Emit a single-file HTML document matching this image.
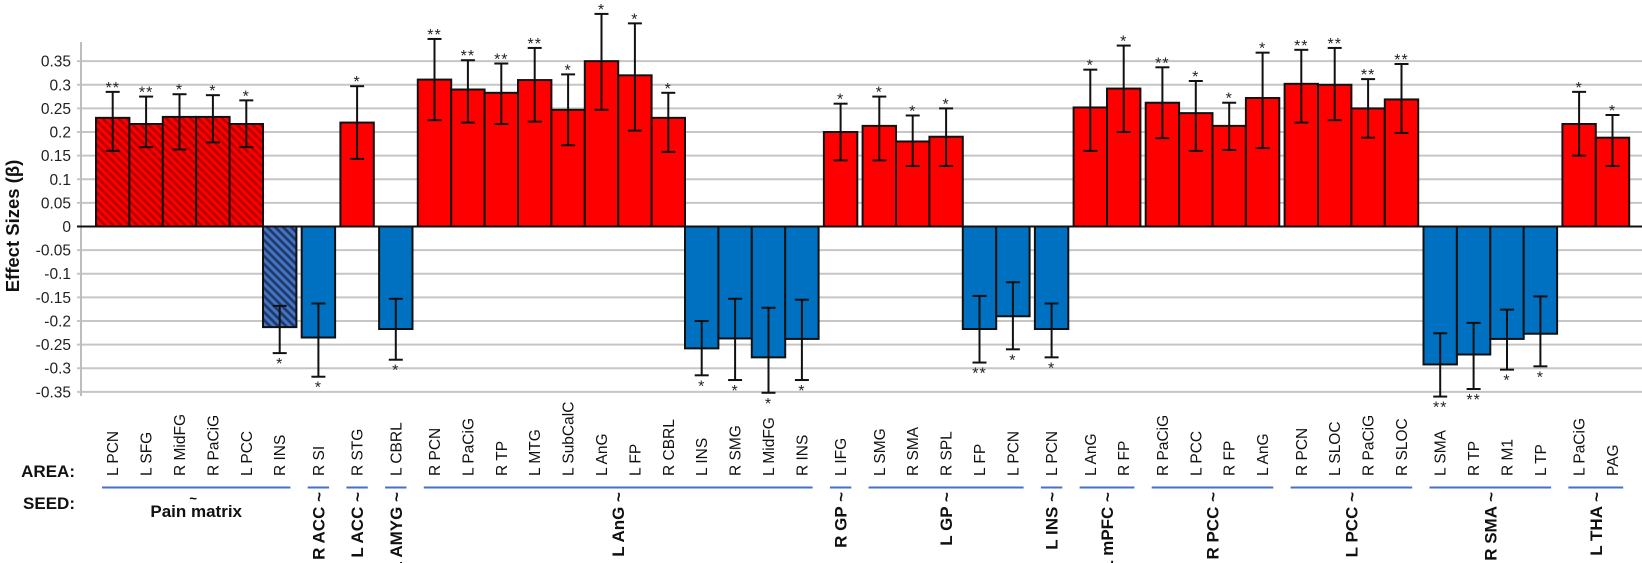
<!DOCTYPE html>
<html><head><meta charset="utf-8"><style>
html,body{margin:0;padding:0;background:#fff;}
svg{display:block;font-family:"Liberation Sans",sans-serif;}
</style></head><body>
<svg id="c" width="1642" height="563" viewBox="0 0 1642 563" xmlns="http://www.w3.org/2000/svg">
<defs>
<pattern id="hr" width="8" height="8" patternUnits="userSpaceOnUse">
<rect width="8" height="8" fill="#ff0000"/>
<path d="M-2,-2 L10,10 M-2,6 L2,10 M6,-2 L10,2" stroke="#b80000" stroke-width="2.6"/>
</pattern>
<pattern id="hb" width="8" height="8" patternUnits="userSpaceOnUse">
<rect width="8" height="8" fill="#4472c4"/>
<path d="M-2,-2 L10,10 M-2,6 L2,10 M6,-2 L10,2" stroke="#1f3864" stroke-width="2.6"/>
</pattern>
</defs>
<g id="g"></g>
</svg>
<script>
var NS="http://www.w3.org/2000/svg",G=document.getElementById("g");
function el(t,a,txt){var e=document.createElementNS(NS,t);for(var k in a)e.setAttribute(k,a[k]);if(txt!=null)e.textContent=txt;G.appendChild(e);return e;}
function Y(v){return 226.5-472.4*v;}
// gridlines
for(var i=-7;i<=7;i++){var v=i*0.05,y=Y(v);
 if(i!==0)el("line",{x1:77,x2:1642,y1:y,y2:y,stroke:"#c6c6c6","stroke-width":2});
 var lab=(i===0)?"0":(v<0?"-":"")+Math.abs(v).toFixed(2).replace(/0$/,"").replace(/^0\.?$/,"0");
 el("text",{x:71,y:y+5.5,"text-anchor":"end","font-size":15.5,fill:"#222"},lab);}
el("line",{x1:81,x2:81,y1:42,y2:396,stroke:"#bdbdbd","stroke-width":2});
el("text",{transform:"translate(19,226) rotate(-90)","text-anchor":"middle","font-size":18.5,"font-weight":"bold",fill:"#111"},"Effect Sizes (β)");
var groups=[
["Pain matrix",[["L PCN",.23,.16,.285,"**",1],["L SFG",.217,.168,.275,"**",1],["R MidFG",.232,.163,.28,"*",1],["R PaCiG",.232,.178,.278,"*",1],["L PCC",.217,.168,.267,"*",1],["R INS",-.213,-.168,-.268,"*",1]]],
["R ACC ~",[["R SI",-.235,-.163,-.318,"*"]]],
["L ACC ~",[["R STG",.22,.143,.297,"*"]]],
["L AMYG ~",[["L CBRL",-.217,-.153,-.282,"*"]]],
["L AnG ~",[["R PCN",.311,.225,.397,"**"],["L PaCiG",.29,.22,.352,"**"],["R TP",.283,.217,.345,"**"],["L MTG",.31,.222,.378,"**"],["L SubCalC",.247,.172,.322,"*"],["L AnG",.35,.247,.45,"*"],["L FP",.32,.203,.43,"*"],["R CBRL",.23,.158,.283,"*"],["L INS",-.258,-.2,-.315,"*"],["R SMG",-.237,-.153,-.325,"*"],["L MidFG",-.277,-.172,-.352,"*"],["R INS",-.238,-.155,-.325,"*"]]],
["R GP ~",[["L IFG",.2,.14,.26,"*"]]],
["L GP ~",[["L SMG",.213,.14,.275,"*"],["R SMA",.18,.128,.235,"*"],["R SPL",.19,.128,.25,"*"],["L FP",-.217,-.147,-.288,"**"],["L PCN",-.19,-.118,-.26,"*"]]],
["L INS ~",[["L PCN",-.217,-.163,-.277,"*"]]],
["L mPFC ~",[["L AnG",.252,.16,.332,"*"],["R FP",.292,.2,.383,"*"]]],
["R PCC ~",[["R PaCiG",.262,.187,.337,"**"],["L PCC",.24,.16,.308,"*"],["R FP",.213,.162,.262,"*"],["L AnG",.272,.166,.368,"*"]]],
["L PCC ~",[["R PCN",.302,.22,.374,"**"],["L SLOC",.30,.225,.378,"**"],["R PaCiG",.25,.188,.312,"**"],["R SLOC",.269,.198,.344,"**"]]],
["R SMA ~",[["L SMA",-.292,-.226,-.36,"**"],["R TP",-.271,-.204,-.344,"**"],["R M1",-.238,-.176,-.303,"*"],["L TP",-.227,-.148,-.296,"*"]]],
["L THA ~",[["L PaCiG",.217,.15,.285,"*"],["PAG",.188,.128,.236,"*"]]]
];
var W=33.4,GAP=5.3,x=96,bars=[];
groups.forEach(function(g,gi){
 var gx0=x;
 g[1].forEach(function(b){bars.push([x,b]);x+=W;});
 var gx1=x;
 el("line",{x1:gx0+6,x2:gx1-6,y1:487.5,y2:487.5,stroke:"#4472c4","stroke-width":2});
 var cx=(gx0+gx1)/2;
 if(gi===0){
  el("text",{x:cx-3,y:503,"text-anchor":"middle","font-size":13,"font-weight":"bold"},"~");
  el("text",{x:cx,y:517,"text-anchor":"middle","font-size":17,"font-weight":"bold",fill:"#111"},"Pain matrix");
 } else {
  el("text",{transform:"translate("+(cx+6)+",492) rotate(-90)","text-anchor":"end","font-size":17,"font-weight":"bold",fill:"#111"},g[0]);
 }
 x+=GAP;
});
bars.forEach(function(p){
 var bx=p[0],b=p[1],v=b[1],y=Y(v),y0=Y(0),cx=bx+W/2;
 var fill=b[5]?(v>0?"url(#hr)":"url(#hb)"):(v>0?"#ff0000":"#0070c0");
 el("rect",{x:bx,y:Math.min(y,y0),width:W,height:Math.abs(y-y0),fill:fill,stroke:"#111","stroke-width":2});
 var ya=Y(b[2]),yb=Y(b[3]);
 el("line",{x1:cx,x2:cx,y1:ya,y2:yb,stroke:"#111","stroke-width":2});
 el("line",{x1:cx-7,x2:cx+7,y1:ya,y2:ya,stroke:"#111","stroke-width":2});
 el("line",{x1:cx-7,x2:cx+7,y1:yb,y2:yb,stroke:"#111","stroke-width":2});
 var sy=v>0?yb+1:yb+16;
 el("text",{x:cx,y:sy,"text-anchor":"middle","font-size":16,fill:"#222","letter-spacing":"1"},b[4]);
 el("text",{transform:"translate("+(cx+5.5)+",476) rotate(-90)","font-size":15.5,fill:"#111"},b[0]);
});
el("line",{x1:77,x2:1642,y1:Y(0),y2:Y(0),stroke:"#111","stroke-width":2});
el("text",{x:75,y:477,"text-anchor":"end","font-size":17,"font-weight":"bold",fill:"#111"},"AREA:");
el("text",{x:75,y:509,"text-anchor":"end","font-size":17,"font-weight":"bold",fill:"#111"},"SEED:");
</script>
</body></html>
